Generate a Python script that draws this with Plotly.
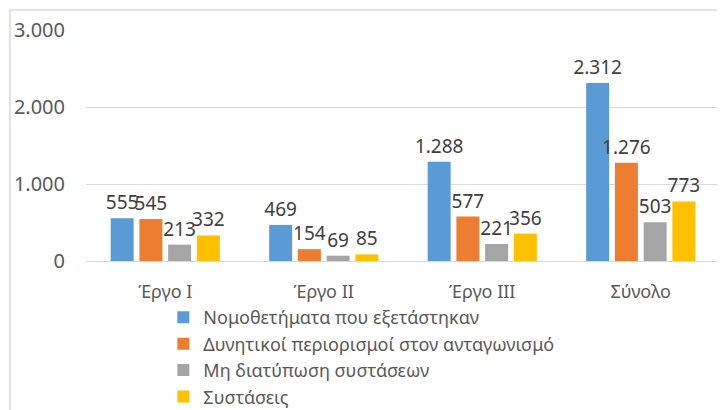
import plotly.graph_objects as go

categories = ["Έργο I", "Έργο II", "Έργο III", "Σύνολο"]
series_names = [
    "Νομοθετήματα που εξετάστηκαν",
    "Δυνητικοί περιορισμοί στον ανταγωνισμό",
    "Μη διατύπωση συστάσεων",
    "Συστάσεις",
]
values_examined = [555, 469, 1288, 2312]
values_restrictions = [545, 154, 577, 1276]
values_no_recommend = [213, 69, 221, 503]
values_recommend = [332, 85, 356, 773]
tick_values = [0, 1000, 2000, 3000]

colors = ["#5B9BD5", "#ED7D31", "#A5A5A5", "#FFC000"]
all_values = [values_examined, values_restrictions, values_no_recommend, values_recommend]

fig = go.Figure()
for name, vals, col in zip(series_names, all_values, colors):
    fig.add_trace(go.Bar(
        x=categories, y=vals, name=name,
        marker=dict(color=col, line=dict(width=0)),
        texttemplate="%{y:,}", textposition="outside", constraintext="none",
        textfont=dict(size=19, color="#404040", family="Noto Sans"),
        cliponaxis=False,
    ))

fig.update_layout(
    width=717, height=402,
    margin=dict(l=78, r=5, t=22, b=149, autoexpand=False),
    barmode="group", bargap=0.275, bargroupgap=0.2,
    separators=",.",
    paper_bgcolor="white", plot_bgcolor="white",
    font=dict(family="Noto Sans", color="#595959", size=17),
    showlegend=True,
    legend=dict(
        orientation="v", x=0.122, xanchor="left", y=-0.165, yanchor="top",
        font=dict(size=18, color="#595959"),
        itemsizing="constant", tracegroupgap=0, itemwidth=30,
        bgcolor="rgba(0,0,0,0)",
    ),
    xaxis=dict(showgrid=False, showline=True, linecolor="#D9D9D9", linewidth=1,
               ticks="", tickfont=dict(size=18, color="#595959"),
               ticklabelstandoff=14),
    yaxis=dict(range=[0, 3000], tickvals=tick_values, tickformat=",",
               showgrid=True, gridcolor="#D9D9D9", gridwidth=1,
               zeroline=False, showline=False, ticks="",
               tickfont=dict(size=20, color="#595959"), ticklabelstandoff=20),
    shapes=[dict(type="rect", xref="paper", yref="paper",
                 x0=-0.12, x1=1.2, y0=-1.0, y1=1.087,
                 line=dict(color="#D9D9D9", width=1.5), fillcolor="rgba(0,0,0,0)",
                 layer="below")],
)

fig.write_html("out.html")
